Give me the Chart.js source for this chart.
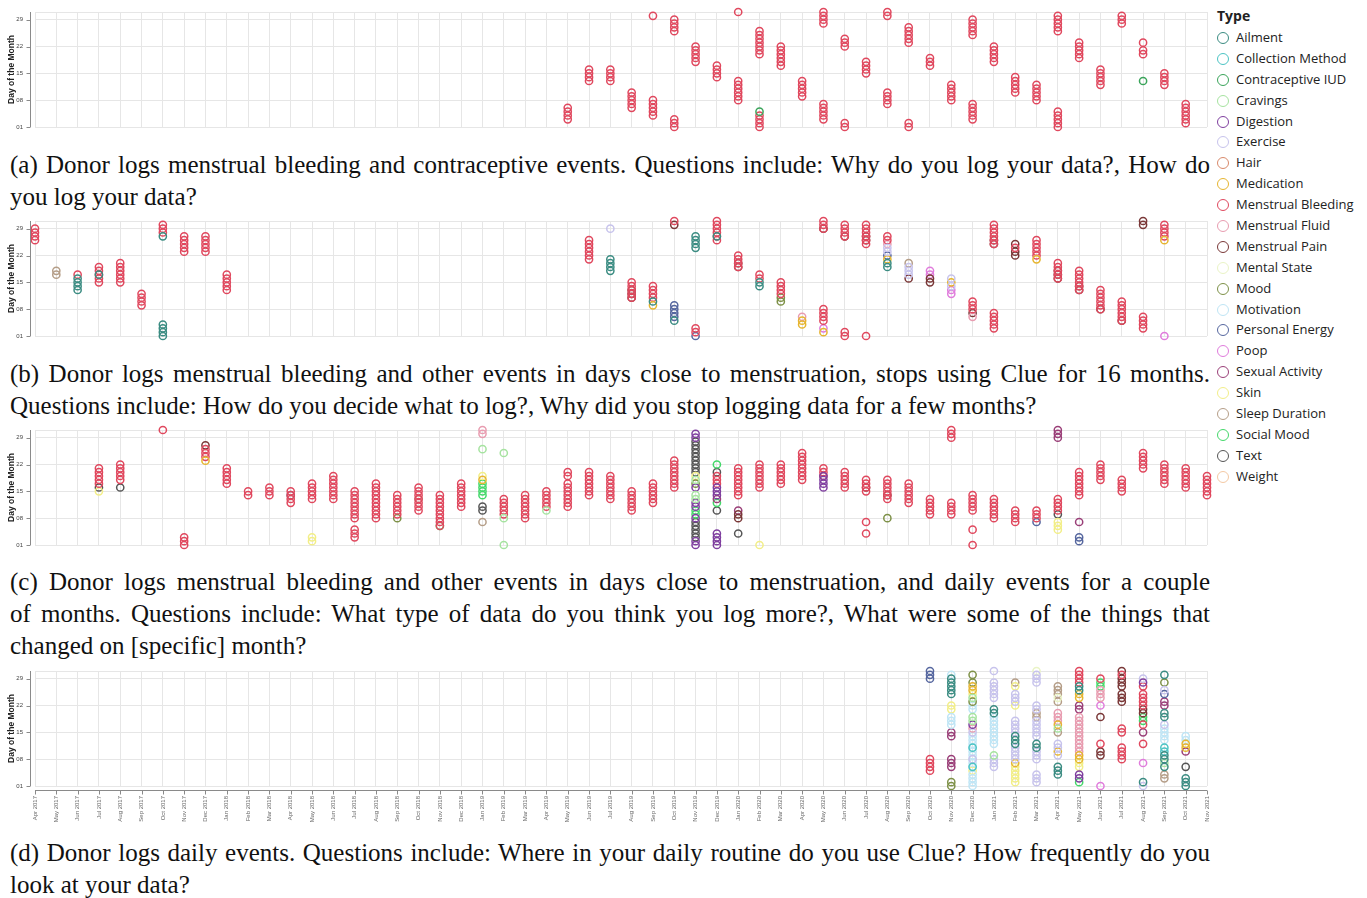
<!DOCTYPE html>
<html>
<head>
<meta charset="utf-8">
<script src="https://cdn.jsdelivr.net/npm/chart.js@4.4.1/dist/chart.umd.min.js"></script>
<style>
  body { margin: 0; width: 1367px; height: 898px; position: relative; background: #fff; overflow: hidden; }
  .panel { position: absolute; left: 0; }
  .cap { position: absolute; left: 10px; width: 1200px; font-family: 'Liberation Serif', serif; font-size: 25px; line-height: 32px; color: #111; }
  .cap .j { display: inline-block; white-space: nowrap; }
  .cap .l { white-space: nowrap; }
  #legend { position: absolute; left: 1217px; top: 5px; font-family: 'Open Sans', sans-serif; color: #222; }
  #legend .title { font-weight: bold; font-size: 14px; height: 22px; line-height: 22px; }
  #legend .item { height: 20.9px; line-height: 20.9px; font-size: 13px; white-space: nowrap; }
  #legend .dot { display: inline-block; width: 10px; height: 10px; border: 1.6px solid; border-radius: 50%; vertical-align: -2px; margin-right: 7px; }
</style>
</head>
<body>

<div class="panel" style="top:6px"><canvas id="chartA" width="1212" height="127"></canvas></div>
<div class="cap" style="top:149px"><span class="j">(a) Donor logs menstrual bleeding and contraceptive events. Questions include: Why do you log your data?, How do</span><div class="l">you log your data?</div></div>

<div class="panel" style="top:215px"><canvas id="chartB" width="1212" height="127"></canvas></div>
<div class="cap" style="top:358px"><span class="j">(b) Donor logs menstrual bleeding and other events in days close to menstruation, stops using Clue for 16 months.</span><div class="l">Questions include: How do you decide what to log?, Why did you stop logging data for a few months?</div></div>

<div class="panel" style="top:424px"><canvas id="chartC" width="1212" height="127"></canvas></div>
<div class="cap" style="top:566px"><span class="j">(c) Donor logs menstrual bleeding and other events in days close to menstruation, and daily events for a couple</span><br><span class="j">of months. Questions include: What type of data do you think you log more?, What were some of the things that</span><div class="l">changed on [specific] month?</div></div>

<div class="panel" style="top:665px"><canvas id="chartD" width="1212" height="161"></canvas></div>
<div class="cap" style="top:837px"><span class="j">(d) Donor logs daily events. Questions include: Where in your daily routine do you use Clue? How frequently do you</span><div class="l">look at your data?</div></div>

<div id="legend"></div>

<script>
// event types and their colours
const TYPES = ['Ailment', 'Collection Method', 'Contraceptive IUD', 'Cravings', 'Digestion', 'Exercise', 'Hair',
  'Medication', 'Menstrual Bleeding', 'Menstrual Fluid', 'Menstrual Pain', 'Mental State', 'Mood', 'Motivation',
  'Personal Energy', 'Poop', 'Sexual Activity', 'Skin', 'Sleep Duration', 'Social Mood', 'Text', 'Weight'];
const COLORS = ['#3b8c82', '#4cc4c4', '#3aa45a', '#a6e3a0', '#7f3f9f', '#c7c3ec', '#d98a6b',
  '#e6b530', '#e0485e', '#e89cb0', '#7a3838', '#eaf4c6', '#7e9148', '#bfe5f5',
  '#56679f', '#e07cdc', '#9a3f78', '#f2ee88', '#b59e88', '#44d86a', '#555555', '#f4c9a4'];

const MONTHS = ['Apr 2017', 'May 2017', 'Jun 2017', 'Jul 2017', 'Aug 2017', 'Sep 2017', 'Oct 2017', 'Nov 2017', 'Dec 2017',
  'Jan 2018', 'Feb 2018', 'Mar 2018', 'Apr 2018', 'May 2018', 'Jun 2018', 'Jul 2018', 'Aug 2018', 'Sep 2018', 'Oct 2018', 'Nov 2018', 'Dec 2018',
  'Jan 2019', 'Feb 2019', 'Mar 2019', 'Apr 2019', 'May 2019', 'Jun 2019', 'Jul 2019', 'Aug 2019', 'Sep 2019', 'Oct 2019', 'Nov 2019', 'Dec 2019',
  'Jan 2020', 'Feb 2020', 'Mar 2020', 'Apr 2020', 'May 2020', 'Jun 2020', 'Jul 2020', 'Aug 2020', 'Sep 2020', 'Oct 2020', 'Nov 2020', 'Dec 2020',
  'Jan 2021', 'Feb 2021', 'Mar 2021', 'Apr 2021', 'May 2021', 'Jun 2021', 'Jul 2021', 'Aug 2021', 'Sep 2021', 'Oct 2021', 'Nov 2021'];
const Y_TICKS = [1, 8, 15, 22, 29];

// rows: [type, month, days of that month with a log]
const panelA = [
  ['Menstrual Bleeding', 'May 2019', [3, 4, 5, 6]],
  ['Menstrual Bleeding', 'Jun 2019', [13, 14, 15, 16]],
  ['Menstrual Bleeding', 'Jul 2019', [13, 14, 15, 16]],
  ['Menstrual Bleeding', 'Aug 2019', [6, 7, 8, 9, 10]],
  ['Menstrual Bleeding', 'Sep 2019', [4, 5, 6, 7, 8, 30]],
  ['Menstrual Bleeding', 'Oct 2019', [1, 2, 3, 26, 27, 28, 29]],
  ['Menstrual Bleeding', 'Nov 2019', [18, 19, 20, 21, 22]],
  ['Menstrual Bleeding', 'Dec 2019', [14, 15, 16, 17]],
  ['Menstrual Bleeding', 'Jan 2020', [8, 9, 10, 11, 12, 13, 31]],
  ['Menstrual Bleeding', 'Feb 2020', [1, 2, 3, 4, 20, 21, 22, 23, 24, 25, 26]],
  ['Contraceptive IUD', 'Feb 2020', [5]],
  ['Menstrual Bleeding', 'Mar 2020', [17, 18, 19, 20, 21, 22]],
  ['Menstrual Bleeding', 'Apr 2020', [9, 10, 11, 12, 13]],
  ['Menstrual Bleeding', 'May 2020', [3, 4, 5, 6, 7, 28, 29, 30, 31]],
  ['Menstrual Bleeding', 'Jun 2020', [1, 2, 22, 23, 24]],
  ['Menstrual Bleeding', 'Jul 2020', [15, 16, 17, 18]],
  ['Menstrual Bleeding', 'Aug 2020', [7, 8, 9, 10, 30, 31]],
  ['Menstrual Bleeding', 'Sep 2020', [1, 2, 23, 24, 25, 26, 27]],
  ['Menstrual Bleeding', 'Oct 2020', [17, 18, 19]],
  ['Menstrual Bleeding', 'Nov 2020', [8, 9, 10, 11, 12]],
  ['Menstrual Bleeding', 'Dec 2020', [3, 4, 5, 6, 7, 25, 26, 27, 28, 29]],
  ['Menstrual Bleeding', 'Jan 2021', [18, 19, 20, 21, 22]],
  ['Menstrual Bleeding', 'Feb 2021', [10, 11, 12, 13, 14]],
  ['Menstrual Bleeding', 'Mar 2021', [8, 9, 10, 11, 12]],
  ['Menstrual Bleeding', 'Apr 2021', [1, 2, 3, 4, 5, 26, 27, 28, 29, 30]],
  ['Menstrual Bleeding', 'May 2021', [19, 20, 21, 22, 23]],
  ['Menstrual Bleeding', 'Jun 2021', [12, 13, 14, 15, 16]],
  ['Menstrual Bleeding', 'Jul 2021', [28, 29, 30]],
  ['Menstrual Bleeding', 'Aug 2021', [20, 21, 23]],
  ['Contraceptive IUD', 'Aug 2021', [13]],
  ['Menstrual Bleeding', 'Sep 2021', [12, 13, 14, 15]],
  ['Menstrual Bleeding', 'Oct 2021', [2, 3, 4, 5, 6, 7]]
];

const panelB = [
  ['Menstrual Bleeding', 'Apr 2017', [26, 27, 28, 29]],
  ['Sleep Duration', 'May 2017', [17, 18]],
  ['Menstrual Bleeding', 'Jun 2017', [17]],
  ['Ailment', 'Jun 2017', [13, 14, 15, 16]],
  ['Menstrual Bleeding', 'Jul 2017', [15, 16, 17, 18, 19]],
  ['Ailment', 'Jul 2017', [17]],
  ['Menstrual Bleeding', 'Aug 2017', [15, 16, 17, 18, 19, 20]],
  ['Menstrual Bleeding', 'Sep 2017', [9, 10, 11, 12]],
  ['Menstrual Bleeding', 'Oct 2017', [28, 29, 30]],
  ['Ailment', 'Oct 2017', [1, 2, 3, 4, 27]],
  ['Menstrual Bleeding', 'Nov 2017', [23, 24, 25, 26, 27]],
  ['Menstrual Bleeding', 'Dec 2017', [23, 24, 25, 26, 27]],
  ['Menstrual Bleeding', 'Jan 2018', [13, 14, 15, 16, 17]],
  ['Menstrual Bleeding', 'Jun 2019', [21, 22, 23, 24, 25, 26]],
  ['Exercise', 'Jul 2019', [29]],
  ['Ailment', 'Jul 2019', [18, 19, 20, 21]],
  ['Menstrual Bleeding', 'Aug 2019', [11, 12, 13, 14, 15]],
  ['Menstrual Pain', 'Aug 2019', [11, 12, 13]],
  ['Menstrual Bleeding', 'Sep 2019', [11, 12, 13, 14]],
  ['Ailment', 'Sep 2019', [10]],
  ['Medication', 'Sep 2019', [9]],
  ['Menstrual Bleeding', 'Oct 2019', [31]],
  ['Menstrual Pain', 'Oct 2019', [30]],
  ['Personal Energy', 'Oct 2019', [6, 7, 8, 9]],
  ['Ailment', 'Oct 2019', [5]],
  ['Ailment', 'Nov 2019', [24, 25, 26, 27]],
  ['Menstrual Bleeding', 'Nov 2019', [2, 3]],
  ['Personal Energy', 'Nov 2019', [1]],
  ['Menstrual Bleeding', 'Dec 2019', [26, 27, 28, 29, 30, 31]],
  ['Ailment', 'Dec 2019', [27]],
  ['Menstrual Bleeding', 'Jan 2020', [19, 20, 21, 22]],
  ['Menstrual Pain', 'Jan 2020', [19, 20]],
  ['Menstrual Bleeding', 'Feb 2020', [16, 17]],
  ['Ailment', 'Feb 2020', [14, 15]],
  ['Menstrual Bleeding', 'Mar 2020', [12, 13, 14, 15]],
  ['Mood', 'Mar 2020', [10, 11]],
  ['Menstrual Fluid', 'Apr 2020', [6]],
  ['Medication', 'Apr 2020', [4, 5]],
  ['Menstrual Bleeding', 'May 2020', [5, 6, 7, 8, 29, 30, 31]],
  ['Menstrual Pain', 'May 2020', [29]],
  ['Poop', 'May 2020', [3]],
  ['Medication', 'May 2020', [2]],
  ['Menstrual Bleeding', 'Jun 2020', [1, 2, 27, 28, 29, 30]],
  ['Menstrual Pain', 'Jun 2020', [27]],
  ['Menstrual Bleeding', 'Jul 2020', [1, 25, 26, 27, 28, 29, 30]],
  ['Menstrual Pain', 'Jul 2020', [26, 27]],
  ['Menstrual Bleeding', 'Aug 2020', [26, 27]],
  ['Menstrual Fluid', 'Aug 2020', [25]],
  ['Exercise', 'Aug 2020', [23, 24]],
  ['Personal Energy', 'Aug 2020', [22]],
  ['Medication', 'Aug 2020', [21]],
  ['Ailment', 'Aug 2020', [19, 20]],
  ['Sleep Duration', 'Sep 2020', [20]],
  ['Exercise', 'Sep 2020', [17, 18, 19]],
  ['Menstrual Pain', 'Sep 2020', [16]],
  ['Poop', 'Oct 2020', [17, 18]],
  ['Menstrual Pain', 'Oct 2020', [15, 16]],
  ['Exercise', 'Nov 2020', [14, 16]],
  ['Medication', 'Nov 2020', [15]],
  ['Poop', 'Nov 2020', [12, 13]],
  ['Menstrual Bleeding', 'Dec 2020', [8, 9, 10]],
  ['Menstrual Pain', 'Dec 2020', [7]],
  ['Menstrual Fluid', 'Dec 2020', [6]],
  ['Menstrual Bleeding', 'Jan 2021', [3, 4, 5, 6, 7, 25, 26, 27, 28, 29, 30]],
  ['Menstrual Pain', 'Jan 2021', [25, 26]],
  ['Menstrual Bleeding', 'Feb 2021', [24]],
  ['Menstrual Pain', 'Feb 2021', [22, 23, 25]],
  ['Menstrual Bleeding', 'Mar 2021', [22, 23, 24, 25, 26]],
  ['Medication', 'Mar 2021', [21]],
  ['Menstrual Bleeding', 'Apr 2021', [16, 17, 18, 19, 20]],
  ['Menstrual Pain', 'Apr 2021', [16, 17, 18]],
  ['Menstrual Bleeding', 'May 2021', [13, 14, 15, 16, 17, 18]],
  ['Menstrual Pain', 'May 2021', [13, 14]],
  ['Menstrual Bleeding', 'Jun 2021', [8, 9, 10, 11, 12, 13]],
  ['Menstrual Pain', 'Jun 2021', [8]],
  ['Menstrual Bleeding', 'Jul 2021', [5, 6, 7, 8, 9, 10]],
  ['Menstrual Pain', 'Jul 2021', [5]],
  ['Menstrual Pain', 'Aug 2021', [30, 31]],
  ['Menstrual Bleeding', 'Aug 2021', [3, 4, 5, 6]],
  ['Menstrual Bleeding', 'Sep 2021', [27, 28, 29, 30]],
  ['Medication', 'Sep 2021', [26]],
  ['Poop', 'Sep 2021', [1]]
];

const panelC = [
  ['Menstrual Bleeding', 'Jul 2017', [17, 18, 19, 20, 21]],
  ['Text', 'Jul 2017', [16]],
  ['Skin', 'Jul 2017', [15]],
  ['Menstrual Bleeding', 'Aug 2017', [18, 19, 20, 21, 22]],
  ['Text', 'Aug 2017', [16]],
  ['Menstrual Bleeding', 'Oct 2017', [31]],
  ['Menstrual Bleeding', 'Nov 2017', [1, 2, 3]],
  ['Menstrual Pain', 'Dec 2017', [27]],
  ['Menstrual Bleeding', 'Dec 2017', [24, 25, 26]],
  ['Medication', 'Dec 2017', [23]],
  ['Menstrual Bleeding', 'Jan 2018', [17, 18, 19, 20, 21]],
  ['Menstrual Bleeding', 'Feb 2018', [14, 15]],
  ['Menstrual Bleeding', 'Mar 2018', [14, 15, 16]],
  ['Menstrual Bleeding', 'Apr 2018', [12, 13, 14, 15]],
  ['Personal Energy', 'Apr 2018', [14]],
  ['Menstrual Bleeding', 'May 2018', [13, 14, 15, 16, 17]],
  ['Skin', 'May 2018', [2, 3]],
  ['Menstrual Bleeding', 'Jun 2018', [13, 14, 15, 16, 17, 18, 19]],
  ['Menstrual Bleeding', 'Jul 2018', [3, 4, 5, 8, 9, 10, 11, 12, 13, 14, 15]],
  ['Menstrual Bleeding', 'Aug 2018', [8, 9, 10, 11, 12, 13, 14, 15, 16, 17]],
  ['Menstrual Bleeding', 'Sep 2018', [9, 10, 11, 12, 13, 14]],
  ['Mood', 'Sep 2018', [8]],
  ['Menstrual Bleeding', 'Oct 2018', [10, 11, 12, 13, 14, 15, 16]],
  ['Sleep Duration', 'Oct 2018', [13]],
  ['Menstrual Bleeding', 'Nov 2018', [6, 7, 8, 9, 10, 11, 12, 13, 14]],
  ['Social Mood', 'Nov 2018', [6]],
  ['Menstrual Bleeding', 'Dec 2018', [11, 12, 13, 14, 15, 16, 17]],
  ['Menstrual Fluid', 'Jan 2019', [30, 31]],
  ['Cravings', 'Jan 2019', [26]],
  ['Skin', 'Jan 2019', [19]],
  ['Medication', 'Jan 2019', [18]],
  ['Social Mood', 'Jan 2019', [14, 15, 16, 17]],
  ['Text', 'Jan 2019', [10, 11]],
  ['Sleep Duration', 'Jan 2019', [7]],
  ['Cravings', 'Feb 2019', [1, 8, 25]],
  ['Menstrual Bleeding', 'Feb 2019', [9, 10, 11, 12, 13]],
  ['Menstrual Bleeding', 'Mar 2019', [8, 9, 10, 11, 12, 13, 14]],
  ['Menstrual Bleeding', 'Apr 2019', [11, 12, 13, 14, 15]],
  ['Cravings', 'Apr 2019', [10]],
  ['Menstrual Bleeding', 'May 2019', [11, 12, 13, 14, 15, 16, 17, 19, 20]],
  ['Menstrual Bleeding', 'Jun 2019', [14, 15, 16, 17, 18, 19, 20]],
  ['Menstrual Bleeding', 'Jul 2019', [13, 14, 15, 16, 17, 18, 19]],
  ['Menstrual Bleeding', 'Aug 2019', [10, 11, 12, 13, 14, 15]],
  ['Menstrual Bleeding', 'Sep 2019', [12, 13, 14, 15, 16, 17]],
  ['Menstrual Bleeding', 'Oct 2019', [16, 17, 18, 19, 20, 21, 22, 23]],
  ['Digestion', 'Nov 2019', [1, 2, 8, 11, 12, 16, 29, 30]],
  ['Text', 'Nov 2019', [3, 4, 5, 6, 7, 20, 21, 22, 23, 24, 25, 26, 27, 28]],
  ['Skin', 'Nov 2019', [19]],
  ['Cravings', 'Nov 2019', [13, 14, 18]],
  ['Mood', 'Nov 2019', [17]],
  ['Social Mood', 'Nov 2019', [9, 10]],
  ['Social Mood', 'Dec 2019', [12, 22]],
  ['Text', 'Dec 2019', [10, 20]],
  ['Menstrual Bleeding', 'Dec 2019', [17, 18, 19]],
  ['Digestion', 'Dec 2019', [1, 2, 3, 4, 14, 15, 16]],
  ['Sexual Activity', 'Dec 2019', [13]],
  ['Menstrual Bleeding', 'Jan 2020', [14, 15, 16, 17, 18, 19, 20, 21]],
  ['Sexual Activity', 'Jan 2020', [10]],
  ['Menstrual Pain', 'Jan 2020', [8, 9]],
  ['Text', 'Jan 2020', [4]],
  ['Menstrual Bleeding', 'Feb 2020', [16, 17, 18, 19, 20, 21, 22]],
  ['Skin', 'Feb 2020', [1]],
  ['Menstrual Bleeding', 'Mar 2020', [17, 18, 19, 20, 21, 22]],
  ['Menstrual Bleeding', 'Apr 2020', [18, 19, 20, 21, 22, 23, 24, 25]],
  ['Menstrual Bleeding', 'May 2020', [19, 20, 21]],
  ['Digestion', 'May 2020', [16, 17, 18, 19]],
  ['Menstrual Bleeding', 'Jun 2020', [16, 17, 18, 19, 20]],
  ['Menstrual Bleeding', 'Jul 2020', [4, 7, 15, 16, 17, 18]],
  ['Menstrual Pain', 'Jul 2020', [16]],
  ['Menstrual Bleeding', 'Aug 2020', [13, 14, 15, 16, 17, 18]],
  ['Menstrual Pain', 'Aug 2020', [14]],
  ['Mood', 'Aug 2020', [8]],
  ['Menstrual Bleeding', 'Sep 2020', [12, 13, 14, 15, 16, 17]],
  ['Menstrual Bleeding', 'Oct 2020', [9, 10, 11, 12, 13]],
  ['Menstrual Bleeding', 'Nov 2020', [9, 10, 11, 12, 29, 30, 31]],
  ['Menstrual Bleeding', 'Dec 2020', [1, 5, 10, 11, 12, 13, 14]],
  ['Menstrual Bleeding', 'Jan 2021', [8, 9, 10, 11, 12, 13]],
  ['Menstrual Bleeding', 'Feb 2021', [7, 8, 9, 10]],
  ['Menstrual Bleeding', 'Mar 2021', [8, 9, 10]],
  ['Personal Energy', 'Mar 2021', [7]],
  ['Sexual Activity', 'Apr 2021', [29, 30, 31]],
  ['Menstrual Bleeding', 'Apr 2021', [10, 11, 12, 13]],
  ['Text', 'Apr 2021', [9]],
  ['Skin', 'Apr 2021', [5, 6, 7]],
  ['Menstrual Bleeding', 'May 2021', [14, 15, 16, 17, 18, 19, 20]],
  ['Sexual Activity', 'May 2021', [7]],
  ['Personal Energy', 'May 2021', [2, 3]],
  ['Menstrual Bleeding', 'Jun 2021', [18, 19, 20, 21, 22]],
  ['Menstrual Bleeding', 'Jul 2021', [15, 16, 17, 18]],
  ['Menstrual Bleeding', 'Aug 2021', [21, 22, 23, 24, 25]],
  ['Menstrual Bleeding', 'Sep 2021', [17, 18, 19, 20, 21, 22]],
  ['Menstrual Bleeding', 'Oct 2021', [16, 17, 18, 19, 20, 21]],
  ['Menstrual Bleeding', 'Nov 2021', [14, 15, 16, 17, 18, 19]]
];

const panelD = [
  ['Personal Energy', 'Oct 2020', [29, 30, 31]],
  ['Menstrual Bleeding', 'Oct 2020', [5, 6, 7, 8]],
  ['Motivation', 'Nov 2020', [17, 18, 19, 30]],
  ['Ailment', 'Nov 2020', [25, 26, 27, 28, 29]],
  ['Skin', 'Nov 2020', [21, 22]],
  ['Sexual Activity', 'Nov 2020', [6, 7, 8, 14, 15]],
  ['Mood', 'Nov 2020', [1, 2]],
  ['Mood', 'Dec 2020', [23, 28, 30]],
  ['Medication', 'Dec 2020', [26, 27]],
  ['Skin', 'Dec 2020', [5, 25]],
  ['Cravings', 'Dec 2020', [18, 19, 24]],
  ['Motivation', 'Dec 2020', [1, 2, 3, 4, 6, 7, 8, 9, 10, 11, 12, 13, 14, 21, 22]],
  ['Digestion', 'Dec 2020', [17]],
  ['Menstrual Fluid', 'Dec 2020', [16]],
  ['Exercise', 'Dec 2020', [8, 15]],
  ['Collection Method', 'Dec 2020', [6, 11]],
  ['Exercise', 'Jan 2021', [6, 7, 8, 24, 25, 26, 27, 28, 31]],
  ['Ailment', 'Jan 2021', [20, 21]],
  ['Motivation', 'Jan 2021', [12, 13, 14, 15, 16, 17, 18, 19]],
  ['Cravings', 'Jan 2021', [9]],
  ['Sleep Duration', 'Feb 2021', [28]],
  ['Skin', 'Feb 2021', [2, 3, 4, 5, 6, 22, 27]],
  ['Exercise', 'Feb 2021', [8, 9, 10, 11, 15, 16, 17, 18, 23, 24, 25]],
  ['Ailment', 'Feb 2021', [12, 13, 14]],
  ['Medication', 'Feb 2021', [7]],
  ['Mental State', 'Mar 2021', [31]],
  ['Exercise', 'Mar 2021', [2, 3, 4, 8, 9, 10, 14, 15, 16, 17, 18, 21, 22, 28, 29, 30]],
  ['Sleep Duration', 'Mar 2021', [19, 20]],
  ['Ailment', 'Mar 2021', [11, 12]],
  ['Sleep Duration', 'Apr 2021', [15, 23, 25, 26, 27]],
  ['Mental State', 'Apr 2021', [24]],
  ['Menstrual Fluid', 'Apr 2021', [18, 19, 20]],
  ['Medication', 'Apr 2021', [10, 17]],
  ['Cravings', 'Apr 2021', [16]],
  ['Exercise', 'Apr 2021', [9, 11, 12]],
  ['Ailment', 'Apr 2021', [4, 5, 6]],
  ['Menstrual Bleeding', 'May 2021', [28, 29, 30, 31]],
  ['Ailment', 'May 2021', [26, 27]],
  ['Medication', 'May 2021', [24, 25]],
  ['Sexual Activity', 'May 2021', [21, 22]],
  ['Menstrual Fluid', 'May 2021', [10, 11, 12, 13, 14, 15, 16, 17, 18, 19]],
  ['Medication', 'May 2021', [8, 9]],
  ['Skin', 'May 2021', [6, 7]],
  ['Digestion', 'May 2021', [3, 4]],
  ['Social Mood', 'May 2021', [2]],
  ['Menstrual Bleeding', 'Jun 2021', [12, 29]],
  ['Social Mood', 'Jun 2021', [27, 28]],
  ['Menstrual Fluid', 'Jun 2021', [24, 25, 26]],
  ['Poop', 'Jun 2021', [1, 22]],
  ['Menstrual Pain', 'Jun 2021', [9, 10, 19]],
  ['Menstrual Pain', 'Jul 2021', [23, 24, 25, 27, 28, 29, 31]],
  ['Menstrual Bleeding', 'Jul 2021', [8, 9, 10, 11, 15, 16, 30]],
  ['Exercise', 'Aug 2021', [1, 29]],
  ['Digestion', 'Aug 2021', [28]],
  ['Menstrual Bleeding', 'Aug 2021', [12, 17, 22, 23, 24, 25, 27]],
  ['Menstrual Pain', 'Aug 2021', [20, 21]],
  ['Social Mood', 'Aug 2021', [18, 19]],
  ['Sexual Activity', 'Aug 2021', [15]],
  ['Poop', 'Aug 2021', [7]],
  ['Ailment', 'Aug 2021', [2]],
  ['Ailment', 'Sep 2021', [6, 8, 9, 19, 20, 30]],
  ['Mood', 'Sep 2021', [28]],
  ['Exercise', 'Sep 2021', [17, 26]],
  ['Personal Energy', 'Sep 2021', [25]],
  ['Sexual Activity', 'Sep 2021', [22, 23]],
  ['Motivation', 'Sep 2021', [13, 14, 15, 16]],
  ['Collection Method', 'Sep 2021', [10, 11]],
  ['Cravings', 'Sep 2021', [7]],
  ['Sleep Duration', 'Sep 2021', [3, 4]],
  ['Motivation', 'Oct 2021', [13, 14]],
  ['Medication', 'Oct 2021', [11, 12]],
  ['Sexual Activity', 'Oct 2021', [10]],
  ['Text', 'Oct 2021', [6]],
  ['Ailment', 'Oct 2021', [1, 2, 3]]
];

// axis lines sit a few pixels away from the plot, like the original figure
const offsetAxes = {
  id: 'offsetAxes',
  afterDraw(chart, args, opts) {
    const { ctx, chartArea: a, scales } = chart;
    ctx.save();
    ctx.strokeStyle = '#8a8a8a';
    ctx.lineWidth = 1;
    ctx.beginPath();
    const xl = Math.round(a.left - 5) + 0.5;
    ctx.moveTo(xl, a.top);
    ctx.lineTo(xl, a.bottom);
    Y_TICKS.forEach(v => {
      const y = Math.round(scales.y.getPixelForValue(v)) + 0.5;
      ctx.moveTo(xl - 4, y);
      ctx.lineTo(xl, y);
    });
    if (opts.xAxis) {
      const yb = Math.round(a.bottom + 4) + 0.5;
      ctx.moveTo(a.left, yb);
      ctx.lineTo(a.right, yb);
      MONTHS.forEach((m, i) => {
        const x = Math.round(scales.x.getPixelForValue(i)) + 0.5;
        ctx.moveTo(x, yb);
        ctx.lineTo(x, yb + 4);
      });
    }
    ctx.stroke();
    ctx.restore();
  }
};

function buildDatasets(rows) {
  const sets = [];
  TYPES.forEach((type, i) => {
    const pts = [];
    rows.filter(r => r[0] === type).forEach(r => {
      r[2].forEach(day => pts.push({ x: r[1], y: day }));
    });
    if (pts.length) {
      sets.push({
        label: type,
        data: pts,
        borderColor: COLORS[i],
        backgroundColor: 'rgba(0,0,0,0)',
        pointRadius: 3.6,
        pointBorderWidth: 1.5,
        clip: false
      });
    }
  });
  return sets;
}

function makePanel(id, rows, showX) {
  const ctx = document.getElementById(id).getContext('2d');
  return new Chart(ctx, {
    type: 'scatter',
    data: { labels: MONTHS, datasets: buildDatasets(rows) },
    plugins: [offsetAxes],
    options: {
      responsive: false,
      animation: false,
      events: [],
      layout: { padding: { top: 6, right: 5, bottom: 0, left: 0 }, autoPadding: false },
      plugins: {
        legend: { display: false },
        tooltip: { enabled: false },
        offsetAxes: { xAxis: showX }
      },
      scales: {
        x: {
          type: 'category',
          labels: MONTHS,
          offset: false,
          grid: { color: '#e6e6e6', drawTicks: false },
          border: { display: false },
          ticks: {
            display: showX,
            autoSkip: false,
            minRotation: 90,
            maxRotation: 90,
            padding: 10,
            color: '#666',
            font: { family: 'Liberation Sans', size: 6 }
          },
          afterFit: s => {
            s.height = showX ? 40 : 6;
            s.paddingLeft = 0;
            s.paddingRight = 0;
          }
        },
        y: {
          min: 1,
          max: 31,
          afterBuildTicks: s => { s.ticks = Y_TICKS.concat([31]).map(v => ({ value: v })); },
          grid: { color: '#e6e6e6', drawTicks: false },
          border: { display: false },
          ticks: {
            padding: 12,
            color: '#444',
            font: { family: 'Liberation Sans', size: 6 },
            callback: v => v === 31 ? '' : String(v).padStart(2, '0')
          },
          title: {
            display: true,
            text: 'Day of the Month',
            color: '#222',
            padding: { top: 7, bottom: 0 },
            font: { family: 'Liberation Sans', size: 8.5, weight: 'bold' }
          },
          afterFit: s => {
            s.width = 35;
            s.paddingTop = 0;
            s.paddingBottom = 0;
          }
        }
      }
    }
  });
}

makePanel('chartA', panelA, false);
makePanel('chartB', panelB, false);
makePanel('chartC', panelC, false);
makePanel('chartD', panelD, true);

// legend
const legend = document.getElementById('legend');
legend.innerHTML = '<div class="title">Type</div>' + TYPES.map((t, i) =>
  `<div class="item"><span class="dot" style="border-color:${COLORS[i]}"></span>${t}</div>`).join('');

// justify the full caption lines to 1200px
document.querySelectorAll('.cap .j').forEach(el => {
  const spaces = (el.textContent.match(/ /g) || []).length;
  const extra = 1200 - el.getBoundingClientRect().width;
  el.style.wordSpacing = (extra / spaces) + 'px';
});
</script>
</body>
</html>
